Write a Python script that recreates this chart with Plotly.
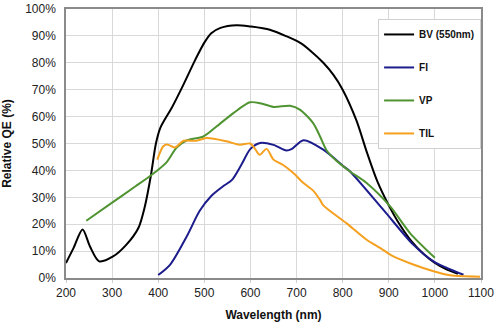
import plotly.graph_objects as go

# Relative quantum efficiency curves by sensor coating
bv_wl = [200, 216, 236, 252, 272, 302, 331, 357, 371, 384, 395, 405, 430, 455, 480, 500, 515, 535, 570, 600, 642, 679, 708, 730, 758, 780, 800, 830, 852, 875, 900, 925, 950, 975, 1000, 1025, 1050]
bv_qe = [5.6, 11, 18, 11.7, 6.2, 8, 12.4, 18.6, 26.6, 38, 50, 56, 63.5, 72, 81, 87.5, 91, 93, 94, 93.5, 92.3, 89.8, 87.4, 84.5, 80, 75.5, 70, 58.5, 47, 36, 27, 19.5, 13.5, 9, 5.6, 3.2, 1.6]

fi_wl = [400, 426, 462, 490, 515, 540, 560, 580, 600, 621, 650, 678, 690, 715, 758, 802, 816, 888, 953, 997, 1062]
fi_qe = [1.1, 5, 15.5, 25, 30.5, 34, 36.5, 42, 48, 50.2, 49.5, 47.4, 48, 51.2, 47.7, 41.5, 39.6, 25.4, 12.4, 6.2, 1.2]

vp_wl = [244, 300, 350, 384, 418, 440, 462, 498, 527, 563, 599, 621, 650, 686, 707, 736, 751, 765, 787, 816, 852, 903, 946, 1000]
vp_qe = [21.3, 28, 34, 38.1, 43, 48.5, 51.2, 52.6, 56.4, 61.3, 65.3, 65, 63.6, 64, 62.6, 57.6, 52.6, 47.5, 43.5, 39.6, 35.3, 26.6, 16.7, 7.5]

til_wl = [398, 411, 420, 436, 455, 483, 505, 548, 577, 599, 610, 620, 635, 650, 671, 693, 715, 736, 751, 758, 808, 852, 881, 910, 953, 997, 1033, 1098]
til_qe = [44, 49, 49.6, 48.5, 51, 51, 52, 50.8, 49.5, 50, 48, 45.8, 48, 44, 42, 39, 35.3, 32.5, 29, 27, 20.4, 14.2, 11.2, 8, 5, 2.5, 1, 0.5]

series = [
    ("BV (550nm)", bv_wl, bv_qe, "#000000"),
    ("FI", fi_wl, fi_qe, "#1c1c8c"),
    ("VP", vp_wl, vp_qe, "#4f9431"),
    ("TIL", til_wl, til_qe, "#f5a01e"),
]

fig = go.Figure()
for name, wl, qe, color in series:
    fig.add_trace(go.Scatter(
        x=wl, y=qe, name=name, mode="lines", legendgroup=name,
        line=dict(color=color, width=2, shape="spline", smoothing=0.8),
    ))

axis_font = dict(family="Liberation Sans, Arial, sans-serif", size=12, color="#222222")
title_font = dict(family="Liberation Sans, Arial, sans-serif", size=12, color="#111111", weight="bold")

fig.update_layout(
    width=500, height=325,
    margin=dict(l=66, r=19, t=9, b=47),
    paper_bgcolor="white", plot_bgcolor="white",
    showlegend=True,
    legend=dict(
        x=0.752, y=0.963, xanchor="left", yanchor="top",
        bgcolor="white", bordercolor="#d0d0d0", borderwidth=1,
        font=dict(family="Liberation Sans, Arial, sans-serif", size=10, color="#111111", weight="bold"),
        tracegroupgap=14, itemwidth=30,
    ),
    xaxis=dict(
        range=[200, 1100], dtick=100, tick0=200, automargin=False,
        showgrid=True, gridcolor="#d9d9d9", gridwidth=1,
        showline=True, mirror=True, linecolor="#8a8a8a", linewidth=1.5,
        ticks="outside", ticklen=3, tickcolor="#d0d0d0",
        tickfont=axis_font, zeroline=False,
        title=dict(text="Wavelength (nm)", font=title_font, standoff=11),
    ),
    yaxis=dict(
        range=[0, 100], dtick=10, ticksuffix="%", automargin=False,
        showgrid=True, gridcolor="#d9d9d9", gridwidth=1,
        showline=True, mirror=True, linecolor="#8a8a8a", linewidth=1.5,
        ticks="outside", ticklen=6, tickcolor="rgba(0,0,0,0)",
        tickfont=axis_font, zeroline=False,
        title=dict(text="Relative QE (%)", font=title_font),
    ),
)

fig.write_html("out.html")
